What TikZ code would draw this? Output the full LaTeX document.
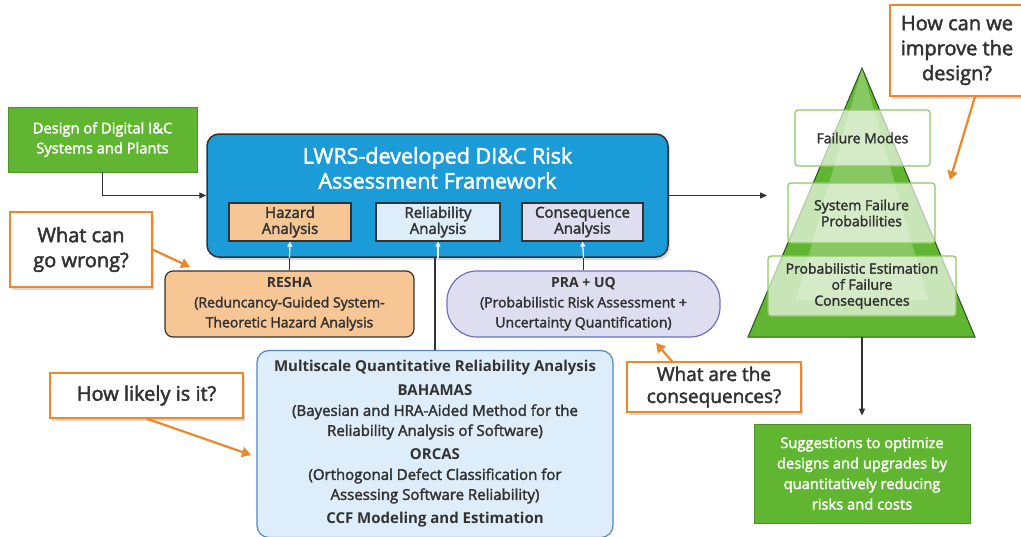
\documentclass[tikz,border=0pt]{standalone}
\usepackage{fontspec}
\setmainfont{Open Sans}
\newfontfamily\semifont{Open Sans}[FakeBold=2.2]
\newcommand\hd[1]{{\normalfont\bfseries #1}}
\usetikzlibrary{arrows.meta,shadows}

\definecolor{dgreen}{RGB}{96,182,48}
\definecolor{fwblue}{RGB}{28,155,217}
\definecolor{hzorange}{RGB}{246,198,148}
\definecolor{rlblue}{RGB}{221,237,249}
\definecolor{cqlav}{RGB}{223,222,241}
\definecolor{praline}{RGB}{106,112,192}
\definecolor{mlline}{RGB}{82,132,200}
\definecolor{coorange}{RGB}{236,136,42}
\definecolor{txtgray}{RGB}{50,50,50}
\definecolor{pyrline}{RGB}{40,80,25}
\definecolor{lvline}{RGB}{140,200,95}

\tikzset{every picture/.style={line width=0.75pt}}
\tikzset{
  greenbox/.style={draw=dgreen!80!black, fill=dgreen, text=white, align=center, inner sep=0pt},
  subbox/.style={draw=txtgray, line width=1.2pt, align=center, text=txtgray, inner sep=0pt,
    minimum height=38, font=\semifont\fontsize{15}{16}\selectfont},
  callout/.style={draw=coorange, line width=1.2pt, fill=white, text=txtgray, align=center, inner sep=0pt,
    drop shadow={opacity=0.3, shadow xshift=2pt, shadow yshift=-3pt}},
  levelbox/.style={draw=lvline, line width=1.2pt, fill=white, fill opacity=0.65, text opacity=1,
    text=txtgray, align=center, inner sep=0pt, rounded corners=3pt, font=\semifont\fontsize{14}{16}\selectfont},
  link/.style={draw=txtgray, line width=1.2pt, -{Triangle[length=7pt,width=6pt]}},
  plainlink/.style={draw=txtgray, line width=1.2pt},
  ask/.style={draw=coorange, line width=2.2pt, -{Triangle[length=9pt,width=10pt]}},
  uptip/.style={draw=white, line width=1.2pt, -{Triangle[length=5pt,width=5pt]}}
}

\begin{document}
\begin{tikzpicture}[x=1pt,y=1pt,yscale=-1,xscale=1]
\useasboundingbox (0,0) rectangle (1021,536);

% Input box
\node[greenbox, minimum width=189, minimum height=65, font=\semifont\fontsize{14.7}{20}\selectfont] (design) at (102.5,139.5) {Design of Digital I\&C\\Systems and Plants};

% Framework
\node[draw=txtgray, line width=1.5pt, fill=fwblue, rounded corners=12pt, minimum width=461, minimum height=123,
  drop shadow={opacity=0.3, shadow xshift=2pt, shadow yshift=-3pt}] (frame) at (437.5,195.5) {};
\node[text=white, align=center, font=\semifont\fontsize{21.5}{25}\selectfont] (title) at (437.5,168) {LWRS-developed DI\&C Risk\\Assessment Framework};
\node[subbox, fill=hzorange, minimum width=122] (hazard) at (290,222) {Hazard\\Analysis};
\node[subbox, fill=rlblue, minimum width=124] (relia) at (438,222) {Reliability\\Analysis};
\node[subbox, fill=cqlav, minimum width=121] (conseq) at (582.5,222) {Consequence\\Analysis};

% Methods
\node[draw=txtgray, line width=1.2pt, fill=hzorange, rounded corners=8pt, minimum width=249, minimum height=66,
  align=center, text=txtgray, inner sep=0pt, font=\semifont\fontsize{14}{20}\selectfont] (resha) at (289.5,304)
  {\hd{RESHA}\\(Reduncancy-Guided System-\\Theoretic Hazard Analysis};
\node[draw=praline, line width=1.2pt, fill=cqlav, rounded corners=30pt, minimum width=273, minimum height=66,
  align=center, text=txtgray, inner sep=0pt, font=\semifont\fontsize{14}{20}\selectfont] (pra) at (583.5,304)
  {\hd{PRA + UQ}\\(Probabilistic Risk Assessment +\\Uncertainty Quantification)};
\node[draw=mlline, line width=1.2pt, fill=rlblue, rounded corners=12pt, minimum width=356, minimum height=187,
  align=center, text=txtgray, inner sep=0pt, font=\semifont\fontsize{15}{20}\selectfont] (multi) at (435,444)
  {\hd{Multiscale Quantitative Reliability Analysis}\\[4pt]
   \hd{BAHAMAS}\\(Bayesian and HRA-Aided Method for the\\Reliability Analysis of Software)\\[4pt]
   \hd{ORCAS}\\(Orthogonal Defect Classification for\\Assessing Software Reliability)\\[4pt]
   \hd{CCF Modeling and Estimation}};

% Links into the framework
\draw[plainlink] (resha.north) -- (resha.north |- frame.south);
\draw[uptip] (resha.north |- frame.south) -- (hazard.south);
\draw[plainlink] (multi.north) -- (multi.north |- frame.south);
\draw[uptip] (relia.south |- frame.south) -- (relia.south);
\draw[plainlink] (pra.north) -- (pra.north |- frame.south);
\draw[uptip] (pra.north |- frame.south) -- (conseq.south);
\draw[link] (design.south) |- (frame.west);

% Pyramid
\coordinate (apex) at (862,68);
\coordinate (baseR) at (975,337);
\coordinate (baseL) at (748,337);
\coordinate (pyrin) at (767,195.5);
\coordinate (pyrbot) at (862,337);
\draw[draw=pyrline, line width=1pt, fill=dgreen] (apex) -- (baseR) -- (baseL) -- cycle;
\fill[white, opacity=0.25] (apex) -- (928,300) -- (796,300) -- cycle;
\node[levelbox, minimum width=135, minimum height=56] (modes) at (862.5,138) {Failure Modes};
\node[levelbox, minimum width=147, minimum height=60] (sysprob) at (861.5,213) {System Failure\\Probabilities};
\node[levelbox, minimum width=188, minimum height=60] (estim) at (862,286) {Probabilistic Estimation\\of Failure\\Consequences};
\draw[link] (frame.east |- pyrin) -- (pyrin);

% Output box
\node[greenbox, minimum width=216, minimum height=99, font=\semifont\fontsize{14.7}{20.5}\selectfont] (suggest) at (862,473.5)
  {Suggestions to optimize\\designs and upgrades by\\quantitatively reducing\\risks and costs};
\draw[link, shorten >=8pt] (pyrbot) -- (suggest.north);

% Questions
\node[callout, minimum width=142, minimum height=75, font=\semifont\fontsize{20}{25}\selectfont] (wrong) at (81,249.5) {What can\\go wrong?};
\node[callout, minimum width=193, minimum height=45, font=\semifont\fontsize{20}{25}\selectfont] (likely) at (146.5,395.5) {How likely is it?};
\node[callout, minimum width=174, minimum height=50, font=\semifont\fontsize{19}{22}\selectfont] (consq) at (714,387) {What are the\\consequences?};
\node[callout, minimum width=134, minimum height=91, font=\semifont\fontsize{20}{25}\selectfont] (improve) at (957,50.5) {How can we\\improve the\\design?};
\coordinate (wrongtip) at (190,267);
\coordinate (likelytip) at (251,455);
\coordinate (consqtip) at (656,343);
\coordinate (improvetip) at (950,180);
\draw[ask] (wrong.east) -- (wrongtip);
\draw[ask] (likely.south) -- (likelytip);
\draw[ask] ([xshift=-42pt]consq.north) -- (consqtip);
\draw[ask] ([xshift=18pt]improve.south) -- (improvetip);

\end{tikzpicture}
\end{document}
